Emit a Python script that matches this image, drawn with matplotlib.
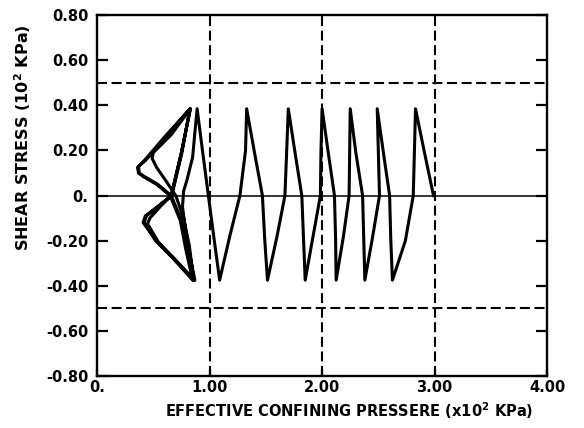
import matplotlib
matplotlib.use("Agg")
import matplotlib.pyplot as plt

# stress path (time order, starting at p' = 2.99)
p_eff = [2.99, 2.91, 2.83, 2.82, 2.81, 2.74, 2.625,
         2.61, 2.60, 2.545, 2.49, 2.50, 2.51, 2.45, 2.38,
         2.37, 2.36, 2.30, 2.25, 2.245, 2.24, 2.19, 2.125,
         2.12, 2.11, 2.055, 2.00, 1.99, 1.985, 1.92, 1.85,
         1.835, 1.82, 1.76, 1.70, 1.685, 1.67, 1.60, 1.515,
         1.49, 1.47, 1.40, 1.33, 1.32, 1.27, 1.18, 1.09,
         1.04, 0.99, 0.94, 0.89, 0.87, 0.85, 0.80, 0.77, 0.76, 0.80, 0.87,
         # loop 1
         0.70, 0.55, 0.45, 0.47, 0.56, 0.66, 0.75, 0.83,
         0.66, 0.50, 0.49, 0.53, 0.62, 0.70, 0.77, 0.82, 0.86,
         # loop 2
         0.69, 0.53, 0.41, 0.43, 0.55, 0.66, 0.75, 0.83,
         0.60, 0.42, 0.36, 0.37, 0.41, 0.53, 0.65, 0.74, 0.79, 0.85,
         # loop 3
         0.68, 0.52, 0.42, 0.44, 0.55, 0.665, 0.755, 0.825,
         0.61, 0.43, 0.37, 0.375, 0.42, 0.54, 0.66, 0.75, 0.80, 0.86]
shear = [0.0, 0.19, 0.385, 0.19, 0.0, -0.20, -0.375,
         -0.19, 0.0, 0.19, 0.385, 0.19, 0.0, -0.18, -0.375,
         -0.19, 0.0, 0.19, 0.385, 0.19, 0.0, -0.18, -0.375,
         -0.19, 0.0, 0.19, 0.385, 0.19, 0.0, -0.18, -0.375,
         -0.19, 0.0, 0.19, 0.385, 0.19, 0.0, -0.18, -0.375,
         -0.19, 0.0, 0.19, 0.385, 0.20, 0.0, -0.18, -0.375,
         -0.19, 0.0, 0.19, 0.385, 0.28, 0.17, 0.07, 0.02, -0.05, -0.20, -0.375,
         -0.29, -0.21, -0.125, -0.10, -0.05, 0.0, 0.19, 0.385,
         0.27, 0.19, 0.165, 0.125, 0.06, 0.0, -0.10, -0.22, -0.375,
         -0.28, -0.20, -0.12, -0.09, -0.045, 0.0, 0.19, 0.385,
         0.26, 0.155, 0.125, 0.10, 0.085, 0.05, 0.0, -0.11, -0.24, -0.375,
         -0.28, -0.20, -0.12, -0.09, -0.045, 0.0, 0.19, 0.385,
         0.26, 0.155, 0.13, 0.10, 0.085, 0.05, 0.0, -0.11, -0.24, -0.375]

x_ticks = [0, 1, 2, 3, 4]
x_labels = ["0.", "1.00", "2.00", "3.00", "4.00"]
y_ticks = [-0.8, -0.6, -0.4, -0.2, 0.0, 0.2, 0.4, 0.6, 0.8]
y_labels = ["-0.80", "-0.60", "-0.40", "-0.20", "0.", "0.20", "0.40", "0.60", "0.80"]

plt.rcParams['font.family'] = 'DejaVu Sans'
plt.rcParams['font.weight'] = 'bold'

fig = plt.figure(figsize=(5.84, 4.28), dpi=100)
ax = fig.add_axes([0.166, 0.1215, 0.771, 0.843])

for xv in [1, 2, 3]:
    ax.axvline(xv, color='black', lw=1.5, ls=(0, (4.8, 2.2)), zorder=1)
for yv in [0.5, -0.5]:
    ax.axhline(yv, color='black', lw=1.5, ls=(0, (4.8, 2.2)), zorder=1)
ax.axhline(0, color='black', lw=1.1, zorder=1)

ax.plot(p_eff, shear, color='black', lw=2.2, solid_joinstyle='round', zorder=3)

ax.set_xlim(0, 4)
ax.set_ylim(-0.8, 0.8)
ax.set_xticks(x_ticks)
ax.set_xticklabels(x_labels)
ax.set_yticks(y_ticks)
ax.set_yticklabels(y_labels)
ax.tick_params(axis='y', direction='in', length=8, width=1.6, right=True,
               labelsize=10.5, pad=6)
ax.tick_params(axis='x', direction='in', length=5, width=1.6, labelsize=10.5, pad=3)
for s in ax.spines.values():
    s.set_linewidth(1.7)

ax.set_ylabel("SHEAR STRESS (10$^\\mathbf{2}$ KPa)", fontsize=11.5, fontweight='bold')
ax.set_xlabel("EFFECTIVE CONFINING PRESSERE (x10$^\\mathbf{2}$ KPa)", fontsize=10.5,
              fontweight='bold')
# labels sit off-centre in the original
ax.yaxis.set_label_coords(-0.142, 0.66)
ax.xaxis.set_label_coords(0.56, -0.066)

fig.savefig("out.png", dpi=100)
